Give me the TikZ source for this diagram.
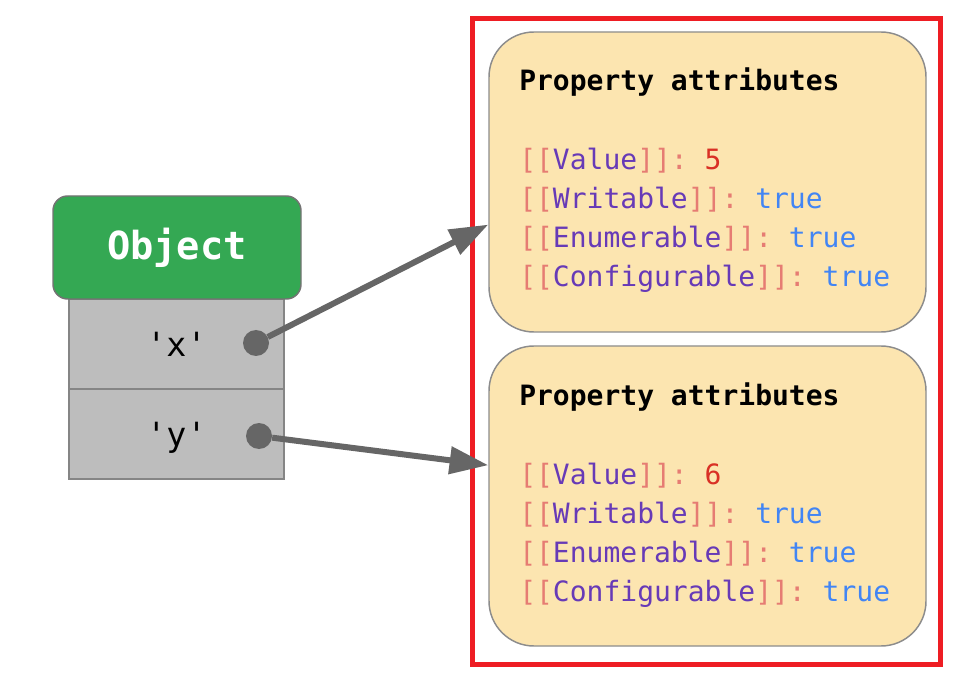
\documentclass[tikz,border=0pt]{standalone}
\usepackage{fontspec}
\setmonofont{DejaVu Sans Mono}
\usepackage{tikz}
\usetikzlibrary{arrows.meta}
\definecolor{objgreen}{HTML}{34A853}
\definecolor{slotgray}{HTML}{BDBDBD}
\definecolor{ptrgray}{HTML}{666666}
\definecolor{boxyellow}{HTML}{FCE5B0}
\definecolor{framered}{HTML}{EE1D23}
\definecolor{brk}{HTML}{E67C73}
\definecolor{attrpurple}{HTML}{673AB7}
\definecolor{numred}{HTML}{D93025}
\definecolor{boolblue}{HTML}{4285F4}
\tikzstyle{slot}=[draw=black!48,fill=slotgray,line width=1.1pt,minimum width=161.25pt,minimum height=67.5pt,text depth=0pt,font=\ttfamily\fontsize{25}{30}\selectfont]
\tikzstyle{header}=[draw=black!55,fill=objgreen,line width=1.1pt,rounded corners=11pt,minimum width=186pt,minimum height=77.25pt,text=white,font=\ttfamily\bfseries\fontsize{29}{35}\selectfont]
\tikzstyle{dot}=[fill=ptrgray,circle,inner sep=0pt,minimum size=19.5pt]
\tikzstyle{propbox}=[draw=black!45,fill=boxyellow,line width=1.1pt,rounded corners=33.75pt,minimum width=327.75pt,minimum height=225pt]
\tikzstyle{ptitle}=[anchor=base west,inner sep=0pt,font=\ttfamily\bfseries\fontsize{21}{25}\selectfont]
\tikzstyle{pline}=[anchor=base west,inner sep=0pt,font=\ttfamily\fontsize{21}{25}\selectfont]
\tikzstyle{ptr}=[draw=ptrgray,line width=4.5pt,-{Triangle[length=29pt,width=20pt]}]
\newcommand{\attrline}[2]{\textcolor{brk}{[[}\textcolor{attrpurple}{#1}\textcolor{brk}{]]:} #2}

\begin{document}
\begin{tikzpicture}[x=0.75pt,y=-0.75pt]
  \useasboundingbox (0,0) rectangle (966,680);
  \draw[framered,line width=3.75pt] (472.5,18.5) rectangle (940,664);

  % the object and its two keys
  \node[slot] (sx) at (176.5,344) {'x'};
  \node[slot] (sy) at (176.5,434) {'y'};
  \node[header] (obj) at (177,247.5) {Object};
  \node[dot] (dx) at (256,343) {};
  \node[dot] (dy) at (259,436) {};

  % one attribute box per key
  \foreach \s/\yy/\v in {x/0/5,y/314/6}{
    \node[propbox] (p\s) at (707.5,182+\yy) {};
    \node[ptitle] (p\s-t) at (519,91+\yy) {Property attributes};
    \node[pline] (p\s-1) at (519,170+\yy) {\attrline{Value}{\textcolor{numred}{\v}}};
    \foreach \a [count=\i from 2] in {Writable,Enumerable,Configurable}
      \node[pline] (p\s-\i) at (519,131+39*\i+\yy) {\attrline{\a}{\textcolor{boolblue}{true}}};
  }

  \draw[ptr] (dx) -- (px.191);
  \draw[ptr] (dy) -- (py.172);
\end{tikzpicture}
\end{document}
